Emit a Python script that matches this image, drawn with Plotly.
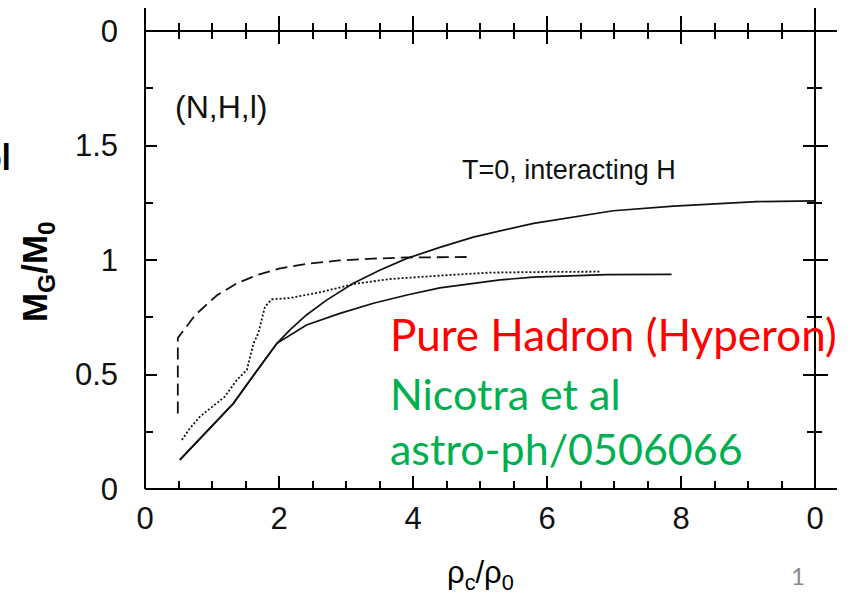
import plotly.graph_objects as go

# Gravitational mass M_G/M_0 versus central density rho_c/rho_0
dens_dashed = [0.49, 0.49, 0.57, 0.75, 1.07, 1.37, 1.67, 2.0, 2.4, 2.9, 3.4, 3.9, 4.8]
mass_dashed = [0.33, 0.66, 0.69, 0.76, 0.845, 0.898, 0.934, 0.962, 0.983, 0.998, 1.006, 1.011, 1.013]

dens_dotted = [0.55, 0.67, 0.82, 1.07, 1.19, 1.37, 1.52, 1.62, 1.69, 1.79, 1.89, 2.16,
               2.66, 3.11, 3.66, 4.4, 5.15, 6.0, 6.79]
mass_dotted = [0.214, 0.265, 0.316, 0.374, 0.403, 0.476, 0.52, 0.636, 0.68, 0.796, 0.828, 0.834,
               0.862, 0.895, 0.917, 0.932, 0.945, 0.948, 0.949]

dens_solid_low = [0.52, 1.32, 1.57, 1.97, 2.41, 2.91, 3.41, 3.91, 4.4, 4.9, 5.3, 5.79, 6.89, 7.86]
mass_solid_low = [0.127, 0.374, 0.476, 0.636, 0.716, 0.767, 0.811, 0.847, 0.878, 0.899, 0.913,
                  0.925, 0.936, 0.937]

dens_solid_high = [0.52, 1.32, 1.57, 1.97, 2.16, 2.41, 2.71, 3.11, 3.51, 3.91, 4.4, 4.9, 5.8,
                   6.99, 7.89, 9.13, 10.0]
mass_solid_high = [0.127, 0.374, 0.476, 0.636, 0.694, 0.76, 0.825, 0.898, 0.956, 1.007, 1.055,
                   1.1, 1.16, 1.215, 1.235, 1.255, 1.258]

x_ticks = [0, 2, 4, 6, 8, 10]
x_tick_labels = ["0", "2", "4", "6", "8", "0"]
x_minor = [0.5, 1, 1.5, 2.5, 3, 3.5, 4.5, 5, 5.5, 6.5, 7, 7.5, 8.5, 9, 9.5]
y_ticks = [0, 0.5, 1, 1.5, 2]
y_tick_labels = ["0", "0.5", "1", "1.5", "0"]
y_minor = [0.25, 0.75, 1.25, 1.75]

AX_FONT = "Liberation Sans, Arial, sans-serif"
SLIDE_FONT = "Lato, Carlito, Calibri, sans-serif"

fig = go.Figure()
fig.add_trace(go.Scatter(x=dens_dashed, y=mass_dashed, mode="lines",
                         line=dict(color="#111", width=1.8, dash="12px,6px")))
fig.add_trace(go.Scatter(x=dens_dotted, y=mass_dotted, mode="lines",
                         line=dict(color="#111", width=1.8, dash="2px,2px")))
fig.add_trace(go.Scatter(x=dens_solid_low, y=mass_solid_low, mode="lines",
                         line=dict(color="#111", width=1.7)))
fig.add_trace(go.Scatter(x=dens_solid_high, y=mass_solid_high, mode="lines",
                         line=dict(color="#111", width=1.7)))
# carrier for the outward-facing tick axes on top and right
fig.add_trace(go.Scatter(x=[], y=[], xaxis="x2", yaxis="y2", hoverinfo="skip"))

tick_common = dict(showgrid=False, zeroline=False, showline=False,
                   tickcolor="black", tickwidth=2)

fig.update_layout(
    width=850, height=596,
    margin=dict(l=145, r=35, t=31, b=107),
    paper_bgcolor="white", plot_bgcolor="white",
    showlegend=False,
    xaxis=dict(range=[0, 10], tickmode="array", tickvals=x_ticks, ticktext=x_tick_labels,
               ticks="inside", ticklen=13, mirror="ticks",
               minor=dict(tickmode="array", tickvals=x_minor, ticks="inside", ticklen=8,
                          tickwidth=2, tickcolor="black"),
               tickfont=dict(family=AX_FONT, size=31, color="#111"),
               ticklabelstandoff=8, **tick_common),
    yaxis=dict(range=[0, 2], tickmode="array", tickvals=y_ticks, ticktext=y_tick_labels,
               ticks="inside", ticklen=12, mirror="ticks",
               minor=dict(tickmode="array", tickvals=y_minor, ticks="inside", ticklen=8,
                          tickwidth=2, tickcolor="black"),
               tickfont=dict(family=AX_FONT, size=31, color="#111"),
               ticklabelstandoff=26, **tick_common),
    xaxis2=dict(range=[0, 10], overlaying="x", side="top", anchor="y",
                tickmode="array", tickvals=x_ticks, ticks="outside", ticklen=14,
                showticklabels=False,
                minor=dict(tickmode="array", tickvals=x_minor, ticks="outside", ticklen=7,
                           tickwidth=2, tickcolor="black"),
                **tick_common),
    yaxis2=dict(range=[0, 2], overlaying="y", side="right", anchor="x",
                tickmode="array", tickvals=y_ticks, ticks="outside", ticklen=12,
                showticklabels=False,
                minor=dict(tickmode="array", tickvals=y_minor, ticks="outside", ticklen=6,
                           tickwidth=2, tickcolor="black"),
                **tick_common),
)

# frame lines, running a little past the plotting box at the top and right
frame = dict(type="line", xref="paper", yref="paper", line=dict(color="black", width=2))
fig.add_shape(x0=0, x1=0, y0=0, y1=1.0502, **frame)
fig.add_shape(x0=1, x1=1, y0=0, y1=1.0502, **frame)
fig.add_shape(x0=0, x1=1.0328, y0=1, y1=1, **frame)
fig.add_shape(x0=0, x1=1.0328, y0=0, y1=0, **frame)

fig.add_annotation(x=0.418, y=1.668, xref="x", yref="y", text="(N,H,l)", showarrow=False,
                   xanchor="left", yanchor="middle",
                   font=dict(family=AX_FONT, size=32, color="#111"))
fig.add_annotation(x=4.70, y=1.393, xref="x", yref="y", text="T=0, interacting H",
                   showarrow=False, xanchor="left", yanchor="middle",
                   font=dict(family=AX_FONT, size=27, color="#111"))

# axis titles
fig.add_annotation(x=-0.161, y=0.474, xref="paper", yref="paper",
                   text="<b>M<sub>G</sub>/M<sub>0</sub></b>", textangle=-90, showarrow=False,
                   xanchor="center", yanchor="middle",
                   font=dict(family=AX_FONT, size=35, color="black"))
fig.add_annotation(x=0.5, y=-0.188, xref="paper", yref="paper",
                   text="ρ<sub>c</sub>/ρ<sub>0</sub>", showarrow=False,
                   xanchor="center", yanchor="middle",
                   font=dict(family=AX_FONT, size=31, color="black"))

# slide text
fig.add_annotation(x=0.3627, y=0.338, xref="paper", yref="paper",
                   text="Pure Hadron (Hyperon)", showarrow=False,
                   xanchor="left", yanchor="middle",
                   font=dict(family=SLIDE_FONT, size=44, color="#FF0000"))
fig.add_annotation(x=0.3627, y=0.2096, xref="paper", yref="paper",
                   text="Nicotra et al", showarrow=False,
                   xanchor="left", yanchor="middle",
                   font=dict(family=SLIDE_FONT, size=43, color="#00B050"))
fig.add_annotation(x=0.3627, y=0.0884, xref="paper", yref="paper",
                   text="astro-ph/0506066", showarrow=False,
                   xanchor="left", yanchor="middle",
                   font=dict(family=SLIDE_FONT, size=43, color="#00B050"))
fig.add_annotation(x=0.9746, y=-0.1878, xref="paper", yref="paper",
                   text="1", showarrow=False, xanchor="center", yanchor="middle",
                   font=dict(family=SLIDE_FONT, size=24, color="#898989"))
fig.add_annotation(x=-0.197, y=0.727, xref="paper", yref="paper",
                   text="<b>ol</b>", showarrow=False, xanchor="right", yanchor="middle",
                   font=dict(family=SLIDE_FONT, size=36, color="black"))

fig.write_html("out.html")
